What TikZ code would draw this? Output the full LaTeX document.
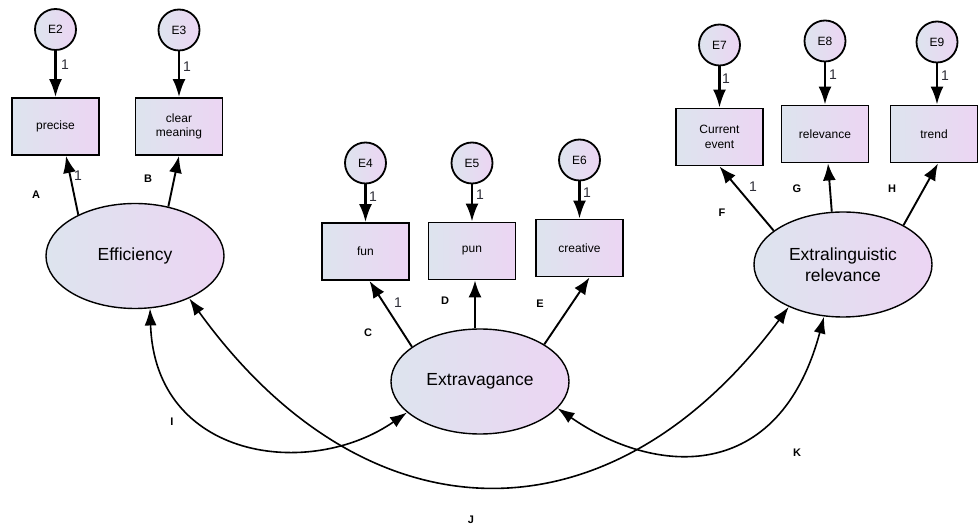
\documentclass[tikz,border=0pt]{standalone}
\usepackage{fontspec}
\setmainfont{Liberation Sans}
\usetikzlibrary{arrows.meta,shapes.geometric}

\definecolor{fillL}{RGB}{221,228,238}
\definecolor{fillR}{RGB}{236,213,243}
\definecolor{numcol}{RGB}{45,45,55}

\tikzset{
  tinted/.style={left color=fillL, right color=fillR},
  obs/.style={tinted, draw, line width=1.9pt, rectangle, minimum width=87pt,
    minimum height=57pt, inner sep=0pt, align=center,
    font=\fontsize{12}{14.5}\selectfont},
  err/.style={tinted, draw, line width=1.8pt, circle, minimum size=41pt,
    inner sep=0pt, font=\fontsize{12}{14}\selectfont},
  lat/.style={tinted, draw, line width=1.4pt, ellipse, minimum width=178pt,
    minimum height=105pt, inner sep=0pt, align=center,
    font=\fontsize{17.5}{21}\selectfont},
  errpath/.style={line width=2.3pt, -{Latex[length=18pt,width=13pt]}},
  loadpath/.style={line width=1.9pt, -{Latex[length=17pt,width=13pt]}},
  covpath/.style={line width=1.6pt,
    {Latex[length=17pt,width=12pt]}-{Latex[length=17pt,width=12pt]}},
  one/.style={font=\fontsize{14}{14}\selectfont, text=numcol, inner sep=0pt},
  tag/.style={font=\bfseries\fontsize{11}{11}\selectfont, inner sep=0pt}
}

\begin{document}
\begin{tikzpicture}[x=1pt,y=-1pt]
\useasboundingbox (0,0) rectangle (978,526);

% observed indicators
\node[obs] (precise) at (55.5,126.5) {precise};
\node[obs] (clear)   at (179,126.5) {clear\\meaning};
\node[obs] (fun)     at (365.5,251.5) {fun};
\node[obs] (pun)     at (472,251) {pun};
\node[obs] (creat)   at (579.5,248) {creative};
\node[obs] (curr)    at (719.5,137) {Current\\event};
\node[obs] (relev)   at (825,134) {relevance};
\node[obs] (trend)   at (934,134) {trend};

% error terms
\node[err] (e2) at (55.5,29.5) {E2};
\node[err] (e3) at (179,30) {E3};
\node[err] (e4) at (365.5,163) {E4};
\node[err] (e5) at (472,163) {E5};
\node[err] (e6) at (579.5,160) {E6};
\node[err] (e7) at (719.5,45) {E7};
\node[err] (e8) at (825,41) {E8};
\node[err] (e9) at (937,42) {E9};

% latent factors
\node[lat] (eff)   at (135,256) {Efficiency};
\node[lat] (extrv) at (480,381.5) {Extravagance};
\node[lat] (extrl) at (843,264.5) {Extralinguistic\\relevance};

% error paths
\draw[errpath] (e2) -- (e2 |- precise.north);
\draw[errpath] (e3) -- (e3 |- clear.north);
\draw[errpath] (e4) -- (e4 |- fun.north);
\draw[errpath] (e5) -- (e5 |- pun.north);
\draw[errpath] (e6) -- (e6 |- creat.north);
\draw[errpath] (e7) -- (e7 |- curr.north);
\draw[errpath] (e8) -- (e8 |- relev.north);
\draw[errpath] (e9) -- (e9 |- trend.north);

% factor loadings
\draw[loadpath] (eff.144) -- ([xshift=10.5pt]precise.south);
\draw[loadpath] (eff.56) -- (clear.south);
\draw[loadpath] (extrv.153) -- ([xshift=4pt]fun.south);
\draw[loadpath] ([xshift=-5pt]extrv.north) -- ([xshift=3pt]pun.south);
\draw[loadpath] (extrv.30) -- ([xshift=10pt]creat.south);
\draw[loadpath] (extrl.154) -- (curr.south);
\draw[loadpath] (extrl.102) -- ([xshift=3pt]relev.south);
\draw[loadpath] (extrl.33) -- ([xshift=4pt]trend.south);

% covariances
\draw[covpath] (eff.-74) .. controls (155,460) and (310,480) .. (extrv.-157);
\draw[covpath] (eff.-38) .. controls (368,546) and (612,546) .. (extrl.-142);
\draw[covpath] (extrv.-19) .. controls (655,476) and (779,485) .. (extrl.-110);

% fixed loadings
\node[one] at (65,65) {1};
\node[one] at (187,67) {1};
\node[one] at (78,176) {1};
\node[one] at (373,197) {1};
\node[one] at (480,195) {1};
\node[one] at (587,193) {1};
\node[one] at (398,303) {1};
\node[one] at (726,79) {1};
\node[one] at (833,75) {1};
\node[one] at (945,76) {1};
\node[one] at (753,187) {1};

% path labels
\node[tag] at (36,195) {A};
\node[tag] at (148,179) {B};
\node[tag] at (368,333) {C};
\node[tag] at (445,301) {D};
\node[tag] at (540,304) {E};
\node[tag] at (722,213) {F};
\node[tag] at (797,189) {G};
\node[tag] at (892,189) {H};
\node[tag] at (172,422) {I};
\node[tag] at (471,520) {J};
\node[tag] at (797,453) {K};
\end{tikzpicture}
\end{document}
